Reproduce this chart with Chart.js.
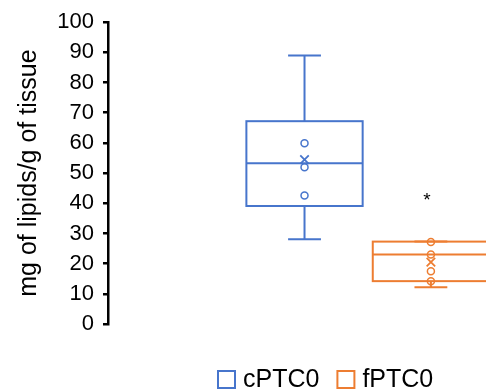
<!DOCTYPE html>
<html>
<head>
<meta charset="utf-8">
<script src="https://cdn.jsdelivr.net/npm/chart.js@4"></script>
<style>
  html, body { margin: 0; padding: 0; background: #fff; }
</style>
</head>
<body>
<canvas id="lipidChart" width="486" height="392"></canvas>
<script>
const groups = ['cPTC0', 'fPTC0'];
const colors = ['#4775CC', '#ED7D31'];

// box plot summaries
const whiskerLow = [28.1, 12.2];
const quartile1 = [39.1, 14.2];
const medians = [53.3, 23.0];
const quartile3 = [67.2, 27.3];
const whiskerHigh = [89.0, 27.3];
const means = [54.5, 20.5];
const innerPoints = [
    [59.9, 51.9, 42.6],
    [27.2, 23.0, 17.5, 14.2]
];
const marks = ['', '*'];

const FONT = "'Liberation Sans', Arial, sans-serif";

// boxes + whiskers, drawn under the points
const boxPlugin = {
    id: 'boxes',
    beforeDatasetsDraw(chart) {
        const ctx = chart.ctx;
        const x = chart.scales.x;
        const y = chart.scales.y;
        groups.forEach((g, i) => {
            const left = x.getPixelForValue(i - 0.46);
            const right = x.getPixelForValue(i + 0.46);
            const capL = x.getPixelForValue(i - 0.13);
            const capR = x.getPixelForValue(i + 0.13);
            const cx = x.getPixelForValue(i);
            const top = y.getPixelForValue(quartile3[i]);
            const bottom = y.getPixelForValue(quartile1[i]);
            const med = y.getPixelForValue(medians[i]);
            const hi = y.getPixelForValue(whiskerHigh[i]);
            const lo = y.getPixelForValue(whiskerLow[i]);

            ctx.save();
            ctx.strokeStyle = colors[i];
            ctx.lineWidth = 2;
            ctx.strokeRect(left, top, right - left, bottom - top);
            ctx.beginPath();
            ctx.moveTo(left, med); ctx.lineTo(right, med);
            ctx.moveTo(cx, top); ctx.lineTo(cx, hi);
            ctx.moveTo(capL, hi); ctx.lineTo(capR, hi);
            ctx.moveTo(cx, bottom); ctx.lineTo(cx, lo);
            ctx.moveTo(capL, lo); ctx.lineTo(capR, lo);
            ctx.stroke();
            ctx.restore();
        });
    },
    afterDatasetsDraw(chart) {
        const ctx = chart.ctx;
        const x = chart.scales.x;
        const y = chart.scales.y;
        ctx.save();
        ctx.fillStyle = '#000';
        ctx.font = '19px ' + FONT;
        ctx.textAlign = 'center';
        ctx.textBaseline = 'alphabetic';
        marks.forEach((m, i) => {
            if (!m) return;
            ctx.fillText(m, x.getPixelForValue(i) - 4, y.getPixelForValue(whiskerHigh[i]) - 36);
        });
        ctx.restore();
    },
    afterDraw(chart) {
        // legend: hollow squares + names
        const ctx = chart.ctx;
        ctx.save();
        ctx.font = '25px ' + FONT;
        ctx.textBaseline = 'middle';
        ctx.fillStyle = '#000';
        let px = 218;
        const py = 379;
        groups.forEach((g, i) => {
            ctx.strokeStyle = colors[i];
            ctx.lineWidth = 2;
            ctx.strokeRect(px, py - 8, 17, 17);
            ctx.fillText(g, px + 25, py + 1);
            px += 25 + ctx.measureText(g).width + 18;
        });
        ctx.restore();
    }
};

const datasets = [];
groups.forEach((g, i) => {
    datasets.push({
        label: g,
        data: innerPoints[i].map(v => ({ x: i, y: v })),
        pointStyle: 'circle',
        pointRadius: 3.5,
        borderColor: colors[i],
        backgroundColor: 'rgba(0,0,0,0)',
        borderWidth: 1.5,
        clip: false
    });
    datasets.push({
        label: g + ' mean',
        data: [{ x: i, y: means[i] }],
        pointStyle: 'crossRot',
        pointRadius: 6,
        borderColor: colors[i],
        borderWidth: 1.8,
        clip: false
    });
});

new Chart(document.getElementById('lipidChart'), {
    type: 'scatter',
    data: { datasets: datasets },
    options: {
        responsive: false,
        animation: false,
        layout: { autoPadding: false, padding: { top: 19, right: 0, bottom: 68, left: 0 } },
        plugins: {
            legend: { display: false },
            tooltip: { enabled: false }
        },
        scales: {
            x: {
                type: 'linear',
                display: false,
                min: -1.555,
                max: 1.436
            },
            y: {
                min: 0,
                max: 100,
                afterFit: s => { s.width = 108; },
                ticks: {
                    stepSize: 10,
                    color: '#000',
                    padding: 9,
                    font: { family: FONT, size: 22 }
                },
                grid: {
                    drawOnChartArea: false,
                    drawTicks: true,
                    tickLength: 5,
                    color: '#000',
                    lineWidth: 2.5
                },
                border: { display: true, color: '#000', width: 2.5 },
                title: {
                    display: true,
                    text: 'mg of lipids/g of tissue',
                    color: '#000',
                    font: { family: FONT, size: 25 },
                    padding: { top: 14, bottom: 0 }
                }
            }
        }
    },
    plugins: [boxPlugin]
});
</script>
</body>
</html>
